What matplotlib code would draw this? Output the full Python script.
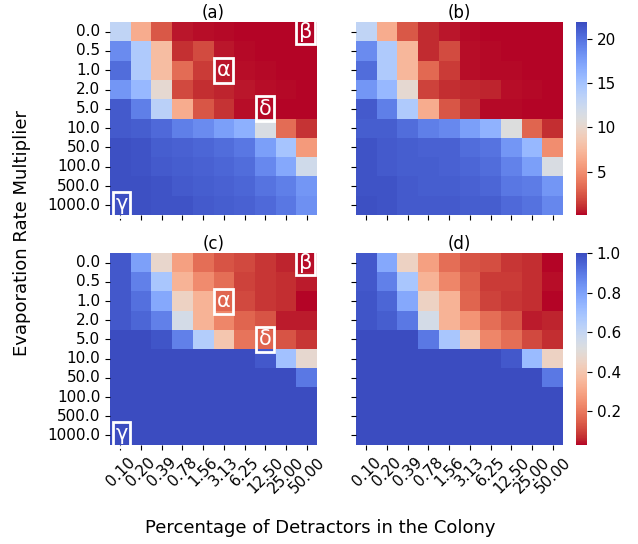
import matplotlib

matplotlib.use("Agg")
import matplotlib.pyplot as plt
import numpy as np
import seaborn as sns

# evaporation multipliers (rows) and detractor percentages (columns)
rows = ["0.0", "0.5", "1.0", "2.0", "5.0", "10.0", "50.0", "100.0", "500.0", "1000.0"]
cols = ["0.10", "0.20", "0.39", "0.78", "1.56", "3.13", "6.25", "12.50", "25.00", "50.00"]

panel_a = [
    [13.2, 6.6, 2.5, 0.5, 0.3, 0.2, 0.1, 0.1, 0.1, 0.1],
    [18.6, 14.3, 7.7, 1.1, 2.0, 0.5, 0.2, 0.1, 0.1, 0.1],
    [20.2, 14.3, 7.7, 3.4, 1.4, 0.5, 0.3, 0.2, 0.1, 0.1],
    [18.0, 15.8, 10.3, 1.9, 1.0, 0.7, 0.5, 0.3, 0.2, 0.1],
    [21.2, 19.3, 13.6, 6.6, 2.4, 1.2, 0.3, 0.2, 0.1, 0.1],
    [21.2, 21.0, 20.4, 19.3, 18.6, 17.5, 16.4, 11.4, 3.4, 1.2],
    [21.7, 21.5, 21.0, 20.8, 20.6, 20.2, 19.7, 17.5, 14.9, 5.6],
    [21.7, 21.5, 21.2, 21.0, 20.8, 20.6, 20.2, 18.8, 16.9, 12.1],
    [21.7, 21.7, 21.5, 21.2, 21.0, 20.8, 20.6, 19.9, 19.3, 18.0],
    [21.8, 21.7, 21.5, 21.5, 21.2, 21.0, 20.8, 20.4, 19.7, 18.4],
]

panel_b = [
    [13.2, 6.6, 2.5, 0.9, 0.5, 0.2, 0.1, 0.1, 0.1, 0.1],
    [18.6, 14.3, 7.3, 0.9, 2.0, 0.3, 0.2, 0.1, 0.1, 0.1],
    [20.2, 14.3, 7.3, 3.2, 1.4, 0.3, 0.2, 0.2, 0.1, 0.1],
    [18.0, 15.8, 10.3, 1.7, 1.0, 0.8, 0.7, 0.3, 0.2, 0.1],
    [21.2, 19.3, 14.3, 6.6, 2.4, 1.2, 0.2, 0.2, 0.1, 0.1],
    [21.0, 21.0, 20.2, 19.3, 18.8, 17.5, 16.2, 11.0, 3.0, 1.0],
    [21.5, 21.2, 21.0, 20.8, 20.8, 20.2, 19.9, 18.0, 15.8, 4.9],
    [21.5, 21.2, 21.0, 21.0, 20.8, 20.6, 20.2, 19.1, 17.5, 11.4],
    [21.5, 21.5, 21.2, 21.0, 21.0, 20.8, 20.6, 19.7, 19.5, 18.0],
    [21.7, 21.5, 21.2, 21.2, 21.2, 21.0, 21.0, 20.4, 20.0, 18.9],
]

panel_c = [
    [0.97, 0.80, 0.47, 0.29, 0.18, 0.13, 0.11, 0.08, 0.06, 0.04],
    [0.97, 0.88, 0.68, 0.34, 0.24, 0.18, 0.10, 0.08, 0.07, 0.05],
    [0.97, 0.92, 0.78, 0.45, 0.34, 0.16, 0.11, 0.08, 0.07, 0.03],
    [0.97, 0.94, 0.88, 0.55, 0.34, 0.23, 0.16, 0.13, 0.05, 0.05],
    [1.00, 1.00, 0.98, 0.88, 0.65, 0.40, 0.19, 0.16, 0.13, 0.08],
    [1.00, 1.00, 1.00, 1.00, 1.00, 1.00, 1.00, 0.97, 0.70, 0.48],
    [1.00, 1.00, 1.00, 1.00, 1.00, 1.00, 1.00, 1.00, 1.00, 0.90],
    [1.00, 1.00, 1.00, 1.00, 1.00, 1.00, 1.00, 1.00, 1.00, 1.00],
    [1.00, 1.00, 1.00, 1.00, 1.00, 1.00, 1.00, 1.00, 1.00, 1.00],
    [1.00, 1.00, 1.00, 1.00, 1.00, 1.00, 1.00, 1.00, 1.00, 1.00],
]

panel_d = [
    [0.97, 0.78, 0.45, 0.29, 0.18, 0.13, 0.12, 0.08, 0.07, 0.03],
    [0.97, 0.88, 0.68, 0.34, 0.23, 0.15, 0.09, 0.09, 0.07, 0.04],
    [0.98, 0.94, 0.78, 0.45, 0.34, 0.16, 0.10, 0.08, 0.07, 0.03],
    [0.98, 0.96, 0.90, 0.55, 0.34, 0.26, 0.18, 0.13, 0.05, 0.06],
    [1.00, 1.00, 1.00, 0.90, 0.68, 0.40, 0.23, 0.18, 0.11, 0.07],
    [1.00, 1.00, 1.00, 1.00, 1.00, 1.00, 1.00, 0.97, 0.72, 0.45],
    [1.00, 1.00, 1.00, 1.00, 1.00, 1.00, 1.00, 1.00, 1.00, 0.90],
    [1.00, 1.00, 1.00, 1.00, 1.00, 1.00, 1.00, 1.00, 1.00, 1.00],
    [1.00, 1.00, 1.00, 1.00, 1.00, 1.00, 1.00, 1.00, 1.00, 1.00],
    [1.00, 1.00, 1.00, 1.00, 1.00, 1.00, 1.00, 1.00, 1.00, 1.00],
]

# region markers: (label, column centre, row centre)
markers = [("β", 9.45, 0.5), ("α", 5.5, 2.5), ("δ", 7.5, 4.5), ("γ", 0.55, 9.45)]

W, H = 638, 544
fig = plt.figure(figsize=(W / 100, H / 100), dpi=100)


def px(x0, y0, x1, y1):
    return [x0 / W, 1 - y1 / H, (x1 - x0) / W, (y1 - y0) / H]


ax_a = fig.add_axes(px(110, 22, 317, 215))
ax_b = fig.add_axes(px(356, 22, 563, 215))
ax_c = fig.add_axes(px(110, 253, 317, 445))
ax_d = fig.add_axes(px(356, 253, 563, 445))
cax_top = fig.add_axes(px(576, 22, 587, 215))
cax_bot = fig.add_axes(px(576, 253, 587, 445))

specs = [
    (ax_a, panel_a, "(a)", cax_top, 0.1, 21.9, True),
    (ax_b, panel_b, "(b)", cax_top, 0.1, 21.9, False),
    (ax_c, panel_c, "(c)", cax_bot, 0.03, 1.0, True),
    (ax_d, panel_d, "(d)", cax_bot, 0.03, 1.0, False),
]

for ax, data, title, cax, lo, hi, left in specs:
    sns.heatmap(np.array(data), ax=ax, cmap="coolwarm_r", vmin=lo, vmax=hi,
                cbar=True, cbar_ax=cax, xticklabels=cols, yticklabels=rows)
    ax.set_title(title, fontsize=12, pad=-2)
    ax.tick_params(labelsize=11)
    if left:
        ax.set_yticklabels(rows, rotation=0, fontsize=11)
    else:
        ax.set_yticklabels([])
    if ax in (ax_c, ax_d):
        ax.set_xticklabels(cols, rotation=45, ha="center", fontsize=11)
    else:
        ax.set_xticklabels([])
    if left:
        for lab, cx, cy in markers:
            ax.text(cx, cy, lab, color="white", fontsize=15, ha="center", va="center",
                    bbox=dict(boxstyle="square,pad=0.12", fc="none", ec="white", lw=2))

cax_top.set_yticks([5, 10, 15, 20])
cax_bot.set_yticks([0.2, 0.4, 0.6, 0.8, 1.0])
for cax in (cax_top, cax_bot):
    cax.tick_params(labelsize=11)

fig.text(22 / W, 1 - 233 / H, "Evaporation Rate Multiplier", rotation=90,
         ha="center", va="center", fontsize=13)
fig.text(320 / W, 1 - 528 / H, "Percentage of Detractors in the Colony",
         ha="center", va="center", fontsize=13)

fig.savefig("out.png", dpi=100)
